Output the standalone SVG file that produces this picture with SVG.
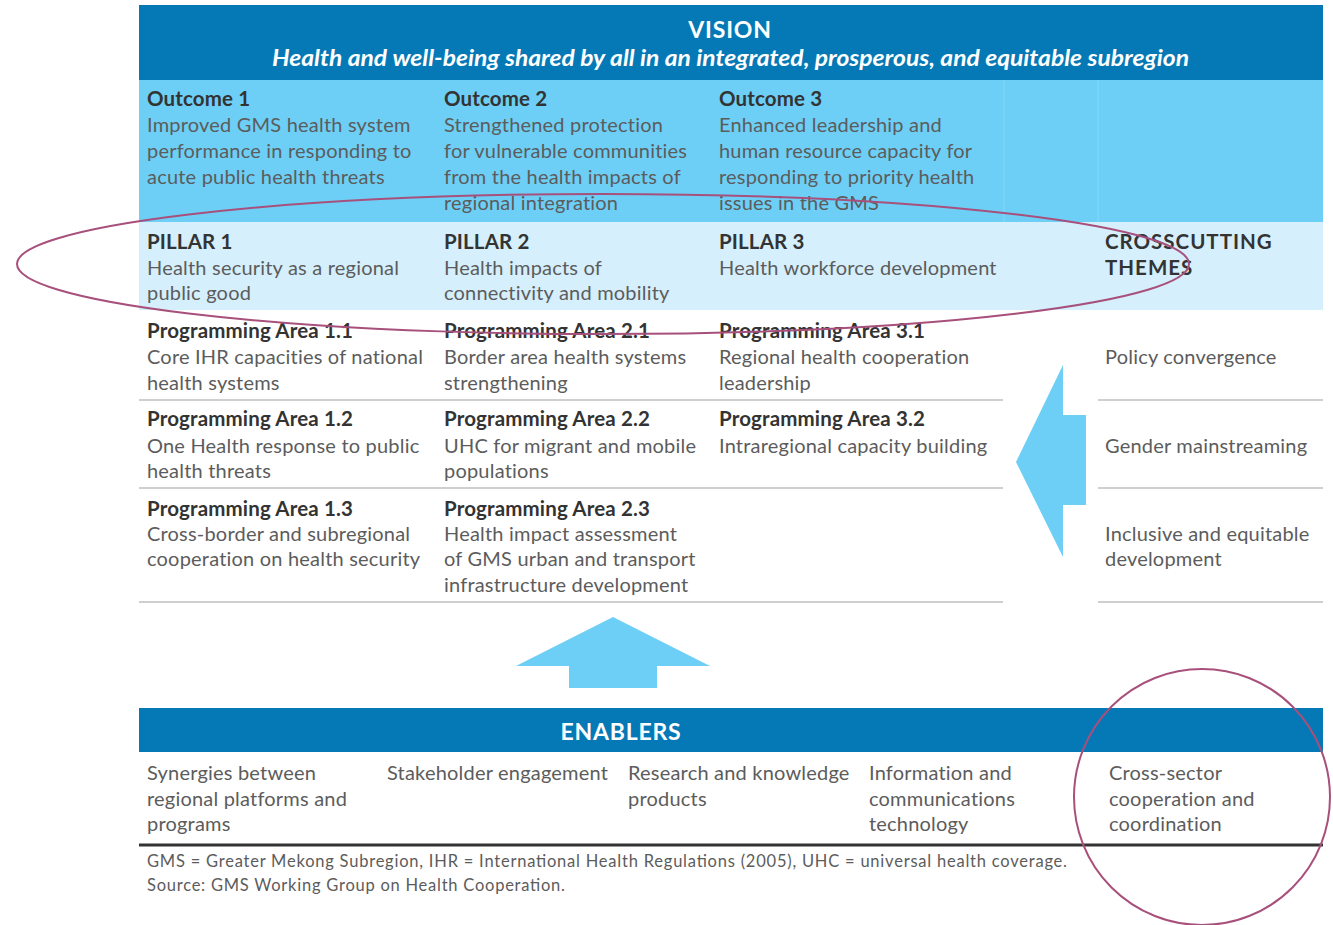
<svg xmlns="http://www.w3.org/2000/svg" width="1333" height="925" viewBox="0 0 1333 925">
  <style>
    text { font-family: Lato, "Open Sans", "Liberation Sans", sans-serif; }
    .hd { font-size: 20.5px; font-weight: 700; fill: #333333; letter-spacing: 0.15px; }
    .bd { font-size: 20px; fill: #5c5c5c; letter-spacing: 0.2px; }
    .caps { letter-spacing: 1px; }
    .wh { fill: #ffffff; font-weight: 700; }
    .sep { stroke: #cfcfcf; stroke-width: 2; }
    .arrow { fill: #6dcff6; }
    .note { fill: none; stroke: #a8507c; stroke-width: 2; }
    .fn { font-size: 16.5px; fill: #5c5c5c; }
  </style>

  <rect width="1333" height="925" fill="#ffffff"/>

  <!-- Vision band -->
  <g id="vision">
    <rect x="139" y="5" width="1184" height="75" fill="#0579b6"/>
    <text class="wh" x="730" y="38" font-size="23" letter-spacing="0.8" text-anchor="middle">VISION</text>
    <text class="wh" x="272" y="66" font-size="23" font-style="italic" textLength="917" lengthAdjust="spacingAndGlyphs">Health and well-being shared by all in an integrated, prosperous, and equitable subregion</text>
  </g>

  <!-- Outcomes row -->
  <g id="outcomes">
    <rect x="139" y="80" width="1184" height="142" fill="#6dcff6"/>
    <line x1="1004" y1="80" x2="1004" y2="222" stroke="#7dd6f7" stroke-width="1.5"/>
    <line x1="1098" y1="80" x2="1098" y2="222" stroke="#7dd6f7" stroke-width="1.5"/>
    <g id="outcome1">
      <text class="hd" x="147" y="106">Outcome 1</text>
      <text class="bd" x="147" y="132">Improved GMS health system</text>
      <text class="bd" x="147" y="158">performance in responding to</text>
      <text class="bd" x="147" y="184">acute public health threats</text>
    </g>
    <g id="outcome2">
      <text class="hd" x="444" y="106">Outcome 2</text>
      <text class="bd" x="444" y="132">Strengthened protection</text>
      <text class="bd" x="444" y="158">for vulnerable communities</text>
      <text class="bd" x="444" y="184">from the health impacts of</text>
      <text class="bd" x="444" y="210">regional integration</text>
    </g>
    <g id="outcome3">
      <text class="hd" x="719" y="106">Outcome 3</text>
      <text class="bd" x="719" y="132">Enhanced leadership and</text>
      <text class="bd" x="719" y="158">human resource capacity for</text>
      <text class="bd" x="719" y="184">responding to priority health</text>
      <text class="bd" x="719" y="210">issues in the GMS</text>
    </g>
  </g>

  <!-- Pillars row -->
  <g id="pillars">
    <rect x="139" y="222" width="1184" height="88" fill="#d5effc"/>
    <g id="pillar1">
      <text class="hd" x="147" y="249">PILLAR 1</text>
      <text class="bd" x="147" y="275">Health security as a regional</text>
      <text class="bd" x="147" y="300">public good</text>
    </g>
    <g id="pillar2">
      <text class="hd" x="444" y="249">PILLAR 2</text>
      <text class="bd" x="444" y="275">Health impacts of</text>
      <text class="bd" x="444" y="300">connectivity and mobility</text>
    </g>
    <g id="pillar3">
      <text class="hd" x="719" y="249">PILLAR 3</text>
      <text class="bd" x="719" y="275">Health workforce development</text>
    </g>
    <g id="crosscutting">
      <text class="hd caps" x="1105" y="249">CROSSCUTTING</text>
      <text class="hd caps" x="1105" y="275">THEMES</text>
    </g>
  </g>

  <!-- Programming areas -->
  <g id="programming-areas">
    <g class="sep">
      <line x1="139" y1="400" x2="1003" y2="400"/>
      <line x1="139" y1="488" x2="1003" y2="488"/>
      <line x1="139" y1="602" x2="1003" y2="602"/>
      <line x1="1098" y1="400" x2="1323" y2="400"/>
      <line x1="1098" y1="488" x2="1323" y2="488"/>
      <line x1="1098" y1="602" x2="1323" y2="602"/>
    </g>
    <g id="pa11">
      <text class="hd" x="147" y="338">Programming Area 1.1</text>
      <text class="bd" x="147" y="364">Core IHR capacities of national</text>
      <text class="bd" x="147" y="390">health systems</text>
    </g>
    <g id="pa21">
      <text class="hd" x="444" y="338">Programming Area 2.1</text>
      <text class="bd" x="444" y="364">Border area health systems</text>
      <text class="bd" x="444" y="390">strengthening</text>
    </g>
    <g id="pa31">
      <text class="hd" x="719" y="338">Programming Area 3.1</text>
      <text class="bd" x="719" y="364">Regional health cooperation</text>
      <text class="bd" x="719" y="390">leadership</text>
    </g>
    <g id="pa12">
      <text class="hd" x="147" y="426">Programming Area 1.2</text>
      <text class="bd" x="147" y="453">One Health response to public</text>
      <text class="bd" x="147" y="478">health threats</text>
    </g>
    <g id="pa22">
      <text class="hd" x="444" y="426">Programming Area 2.2</text>
      <text class="bd" x="444" y="453">UHC for migrant and mobile</text>
      <text class="bd" x="444" y="478">populations</text>
    </g>
    <g id="pa32">
      <text class="hd" x="719" y="426">Programming Area 3.2</text>
      <text class="bd" x="719" y="453">Intraregional capacity building</text>
    </g>
    <g id="pa13">
      <text class="hd" x="147" y="516">Programming Area 1.3</text>
      <text class="bd" x="147" y="541">Cross-border and subregional</text>
      <text class="bd" x="147" y="566">cooperation on health security</text>
    </g>
    <g id="pa23">
      <text class="hd" x="444" y="516">Programming Area 2.3</text>
      <text class="bd" x="444" y="541">Health impact assessment</text>
      <text class="bd" x="444" y="566">of GMS urban and transport</text>
      <text class="bd" x="444" y="592">infrastructure development</text>
    </g>
  </g>

  <!-- Crosscutting themes -->
  <g id="themes">
    <text class="bd" x="1105" y="364">Policy convergence</text>
    <text class="bd" x="1105" y="453">Gender mainstreaming</text>
    <text class="bd" x="1105" y="541">Inclusive and equitable</text>
    <text class="bd" x="1105" y="566">development</text>
  </g>

  <!-- Block arrows -->
  <g id="connectors">
    <polygon class="arrow" points="1016,462 1063,365 1063,415 1086,415 1086,505 1063,505 1063,557"/>
    <polygon class="arrow" points="613,617 710,666 657,666 657,688 569,688 569,666 516,666"/>
  </g>

  <!-- Enablers -->
  <g id="enablers">
    <rect x="139" y="708" width="1184" height="44" fill="#0579b6"/>
    <text class="wh" x="621" y="740" font-size="23" letter-spacing="0.8" text-anchor="middle">ENABLERS</text>
    <g id="enabler1">
      <text class="bd" x="147" y="780">Synergies between</text>
      <text class="bd" x="147" y="806">regional platforms and</text>
      <text class="bd" x="147" y="831">programs</text>
    </g>
    <g id="enabler2">
      <text class="bd" x="387" y="780">Stakeholder engagement</text>
    </g>
    <g id="enabler3">
      <text class="bd" x="628" y="780">Research and knowledge</text>
      <text class="bd" x="628" y="806">products</text>
    </g>
    <g id="enabler4">
      <text class="bd" x="869" y="780">Information and</text>
      <text class="bd" x="869" y="806">communications</text>
      <text class="bd" x="869" y="831">technology</text>
    </g>
    <g id="enabler5">
      <text class="bd" x="1109" y="780">Cross-sector</text>
      <text class="bd" x="1109" y="806">cooperation and</text>
      <text class="bd" x="1109" y="831">coordination</text>
    </g>
    <line x1="139" y1="845" x2="1323" y2="845" stroke="#333333" stroke-width="3"/>
  </g>

  <!-- Footnote -->
  <g id="footnote">
    <text class="fn" x="147" y="867" textLength="920" lengthAdjust="spacing">GMS = Greater Mekong Subregion, IHR = International Health Regulations (2005), UHC = universal health coverage.</text>
    <text class="fn" x="147" y="891" textLength="418" lengthAdjust="spacing">Source: GMS Working Group on Health Cooperation.</text>
  </g>

  <!-- Hand-drawn highlight marks -->
  <g id="highlights">
    <ellipse class="note" cx="603" cy="264" rx="586" ry="70"/>
    <circle class="note" cx="1202" cy="797" r="128"/>
  </g>
</svg>
